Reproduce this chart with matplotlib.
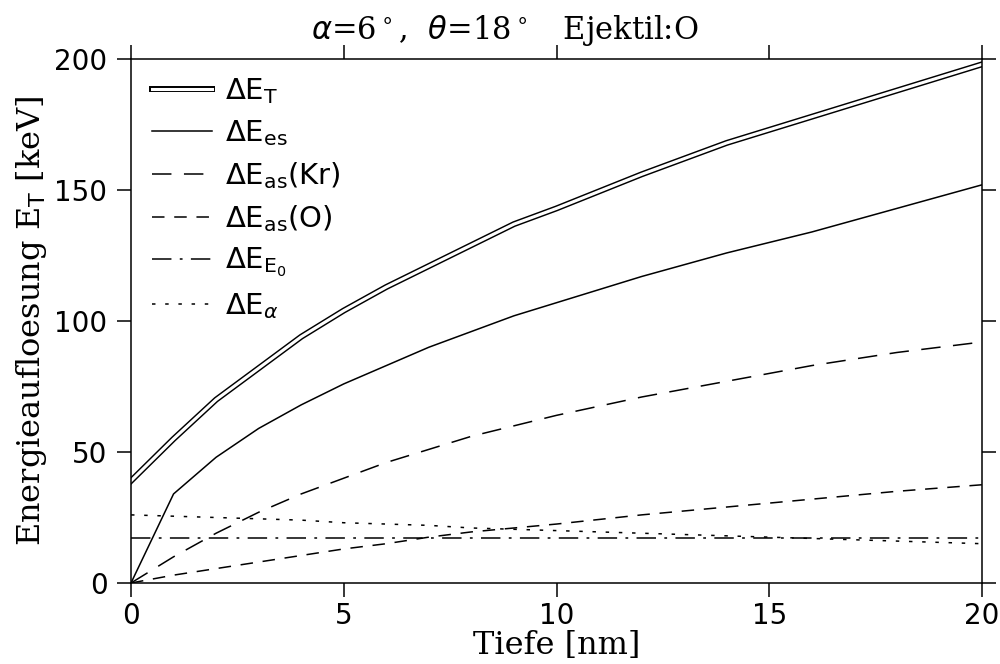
import matplotlib
matplotlib.use("Agg")
import matplotlib.pyplot as plt
from matplotlib.legend_handler import HandlerTuple

plt.rcParams["mathtext.fontset"] = "dejavusans"
plt.rcParams["lines.scale_dashes"] = False

# depth [nm]
tiefe = [0, 1, 2, 3, 4, 5, 6, 7, 8, 9, 10, 12, 14, 16, 18, 20]

# energy resolution contributions [keV]
dE_T = [39, 55, 70, 82, 94, 104, 113, 121, 129, 137, 143, 156, 168, 178, 188, 198]
dE_es = [0, 34, 48, 59, 68, 76, 83, 90, 96, 102, 107, 117, 126, 134, 143, 152]
dE_as_kr = [0, 10, 19, 27, 34, 40, 46, 51, 56, 60, 64, 71, 77, 83, 88, 92]
dE_as_o = [0, 3, 5.5, 8, 10.5, 13, 15, 17.5, 19.5, 21, 22.5, 26, 29, 32, 35, 37.5]
dE_E0 = [17] * len(tiefe)
dE_alpha = [26, 25.5, 25, 24.5, 24, 23, 22.5, 22, 21, 20.5, 20, 19, 18, 17, 16, 15]

fig = plt.figure(figsize=(10, 6.64), dpi=100)
ax = fig.add_axes([0.131, 0.122, 0.851, 0.789])

# double line for total
l_t1, = ax.plot(tiefe, dE_T, color="black", lw=4.3)
l_t2, = ax.plot(tiefe, dE_T, color="white", lw=2.2)
l_es, = ax.plot(tiefe, dE_es, color="black", lw=1.1)
l_kr, = ax.plot(tiefe, dE_as_kr, color="black", lw=1.1, dashes=(14, 9))
l_o, = ax.plot(tiefe, dE_as_o, color="black", lw=1.1, dashes=(9, 7))
l_e0, = ax.plot(tiefe, dE_E0, color="black", lw=1.1, dashes=(14, 6, 2, 6))
l_a, = ax.plot(tiefe, dE_alpha, color="black", lw=1.1, dashes=(2.5, 7))

ax.set_xlim(0, 20)
ax.set_ylim(0, 200)
ax.set_xticks([0, 5, 10, 15, 20])
ax.set_yticks([0, 50, 100, 150, 200])
ax.tick_params(direction="out", length=10, width=1.1, labelsize=20,
               top=True, right=True, pad=7)
ax.tick_params(axis="x", pad=4)
for s in ax.spines.values():
    s.set_linewidth(1.1)

serif = "DejaVu Serif"
ax.set_xlabel("Tiefe [nm]", family=serif, fontsize=23, labelpad=0)
ax.set_ylabel(r"Energieaufloesung E$_\mathrm{T}$ [keV]", family=serif,
              fontsize=23, labelpad=4)
fig.text(0.505, 0.942, r"$\alpha$=6$^\circ$,  $\theta$=18$^\circ$   Ejektil:O",
         family=serif, fontsize=22, ha="center", va="baseline")

labels = [r"$\Delta\mathrm{E}_\mathrm{T}$",
          r"$\Delta\mathrm{E}_\mathrm{es}$",
          r"$\Delta\mathrm{E}_\mathrm{as}(\mathrm{Kr})$",
          r"$\Delta\mathrm{E}_\mathrm{as}(\mathrm{O})$",
          r"$\Delta\mathrm{E}_{\mathrm{E}_0}$",
          r"$\Delta\mathrm{E}_\alpha$"]
ax.legend([(l_t1, l_t2), l_es, l_kr, l_o, l_e0, l_a], labels,
          handler_map={tuple: HandlerTuple(ndivide=1, pad=0)},
          loc="upper left", bbox_to_anchor=(0.011, 0.99), borderaxespad=0,
          frameon=False, fontsize=21,
          handlelength=2.05, handletextpad=0.45, labelspacing=0.42)

fig.savefig("out.png", dpi=100)
